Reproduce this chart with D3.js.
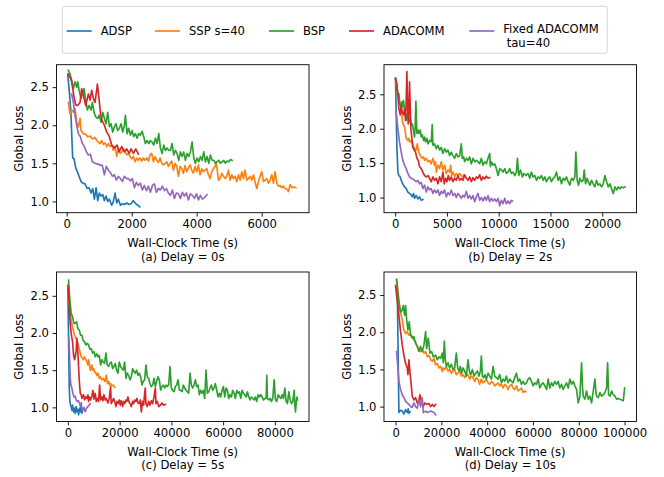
<!DOCTYPE html>
<html><head><meta charset="utf-8">
<script src="https://cdn.jsdelivr.net/npm/d3@7"></script>
<style>
body{margin:0;background:#fff}
text{font-family:"DejaVu Sans",sans-serif;fill:#000}
</style>
</head><body>
<svg id="chart" width="664" height="477"></svg>
<script>
// ---------- legend / series ----------
const seriesNames = ["ADSP", "SSP s=40", "BSP", "ADACOMM", "Fixed ADACOMM|tau=40"];
const seriesColors = ["#1f77b4", "#ff7f0e", "#2ca02c", "#d62728", "#9467bd"];

// ---------- tick labels ----------
const yTicks = [1.0, 1.5, 2.0, 2.5];
const xTicksA = [0, 2000, 4000, 6000];
const xTicksB = [0, 5000, 10000, 15000, 20000];
const xTicksC = [0, 20000, 40000, 60000, 80000];
const xTicksD = [0, 20000, 40000, 60000, 80000, 100000];
const captions = ["(a) Delay = 0s", "(b) Delay = 2s", "(c) Delay = 5s", "(d) Delay = 10s"];

// ---------- (a) delay 0s : [wall-clock s, loss] ----------
const adspA = [[31,2.67],[92,2.39],[133,2.13],[164,1.78],[185,1.57],[226,1.56],[277,1.44],[328,1.39],[380,1.33],[441,1.26],[492,1.24],[564,1.23],[626,1.17],[687,1.18],[749,1.11],[800,1.17],[852,1.03],[903,1.18],[954,1.01],[1005,1.11],[1057,1.07],[1108,1.09],[1159,1.01],[1211,1.07],[1262,1.00],[1313,1.03],[1385,0.95],[1436,1.00],[1488,1.11],[1539,0.98],[1590,1.03],[1652,0.95],[1713,0.97],[1775,0.96],[1847,0.98],[1919,0.96],[1980,0.97],[2052,1.01],[2124,0.97],[2247,0.93]];
const sspA = [[51,2.30],[103,2.15],[154,2.20],[205,2.17],[256,2.22],[308,2.04],[359,1.98],[410,2.09],[441,1.93],[513,1.89],[585,1.88],[646,1.85],[718,1.86],[770,1.83],[821,1.82],[872,1.84],[923,1.80],[975,1.78],[1026,1.76],[1077,1.80],[1129,1.75],[1180,1.77],[1231,1.72],[1283,1.76],[1334,1.72],[1385,1.74],[1436,1.67],[1488,1.72],[1539,1.59],[1590,1.70],[1642,1.63],[1693,1.65],[1744,1.69],[1796,1.65],[1847,1.61],[1898,1.63],[1949,1.59],[2001,1.56],[2052,1.59],[2103,1.52],[2155,1.57],[2206,1.54],[2257,1.57],[2309,1.53],[2360,1.57],[2411,1.54],[2462,1.57],[2514,1.53],[2565,1.61],[2616,1.63],[2668,1.52],[2719,1.59],[2770,1.54],[2822,1.51],[2873,1.57],[2924,1.50],[2975,1.48],[3027,1.50],[3078,1.52],[3129,1.46],[3181,1.50],[3232,1.53],[3283,1.41],[3335,1.50],[3386,1.46],[3437,1.33],[3488,1.46],[3540,1.43],[3591,1.37],[3642,1.47],[3694,1.39],[3745,1.44],[3796,1.48],[3848,1.41],[3899,1.37],[3950,1.46],[4001,1.39],[4053,1.48],[4104,1.35],[4155,1.43],[4207,1.39],[4258,1.41],[4309,1.43],[4361,1.35],[4412,1.30],[4463,1.39],[4514,1.43],[4566,1.46],[4596,1.52],[4627,1.43],[4668,1.28],[4720,1.30],[4771,1.37],[4822,1.33],[4874,1.30],[4925,1.33],[4976,1.41],[5027,1.28],[5079,1.35],[5130,1.30],[5181,1.33],[5233,1.26],[5284,1.35],[5335,1.28],[5387,1.39],[5438,1.30],[5489,1.41],[5540,1.28],[5592,1.30],[5643,1.33],[5694,1.28],[5746,1.35],[5797,1.25],[5848,1.17],[5899,1.26],[5951,1.33],[6002,1.39],[6053,1.26],[6105,1.28],[6156,1.30],[6207,1.24],[6259,1.28],[6310,1.35],[6361,1.24],[6412,1.39],[6464,1.24],[6515,1.20],[6566,1.21],[6618,1.18],[6669,1.20],[6720,1.17],[6772,1.16],[6823,1.13],[6874,1.22],[6926,1.18],[6977,1.19],[7049,1.18]];
const bspA = [[51,2.72],[103,2.67],[154,2.59],[205,2.48],[256,2.57],[308,2.50],[339,2.57],[380,2.46],[441,2.35],[482,2.41],[534,2.48],[585,2.33],[636,2.20],[687,2.26],[749,2.20],[790,2.30],[841,2.17],[893,2.11],[954,2.09],[995,2.13],[1057,2.04],[1108,2.17],[1159,2.09],[1211,2.02],[1262,2.17],[1313,1.98],[1365,2.02],[1416,1.91],[1467,1.98],[1518,2.02],[1570,1.93],[1621,1.96],[1672,2.02],[1724,1.91],[1775,2.00],[1806,2.13],[1857,1.89],[1908,1.96],[1960,1.87],[2011,1.93],[2062,1.85],[2114,1.89],[2165,1.83],[2216,1.89],[2267,1.87],[2319,1.92],[2370,1.85],[2421,1.76],[2473,1.80],[2524,1.76],[2575,1.80],[2627,1.78],[2678,1.74],[2729,1.83],[2780,1.76],[2832,1.89],[2883,1.70],[2934,1.63],[2986,1.74],[3037,1.67],[3088,1.70],[3140,1.67],[3191,1.67],[3242,1.76],[3293,1.61],[3345,1.67],[3396,1.63],[3447,1.54],[3499,1.65],[3550,1.59],[3601,1.65],[3653,1.54],[3704,1.63],[3755,1.59],[3806,1.65],[3858,1.78],[3909,1.57],[3960,1.50],[4012,1.57],[4063,1.52],[4114,1.59],[4166,1.54],[4217,1.65],[4268,1.52],[4319,1.59],[4371,1.50],[4422,1.61],[4473,1.54],[4525,1.54],[4576,1.50],[4627,1.52],[4679,1.54],[4730,1.50],[4781,1.52],[4832,1.54],[4884,1.50],[4935,1.53],[4986,1.52],[5038,1.55],[5089,1.54]];
const adacommA = [[51,2.67],[103,2.63],[154,2.57],[226,2.37],[277,2.27],[318,2.26],[359,2.27],[410,2.30],[462,2.48],[513,2.39],[585,2.26],[667,2.41],[718,2.33],[770,2.46],[821,2.35],[872,2.30],[944,2.54],[995,2.35],[1036,2.17],[1077,2.07],[1159,2.00],[1231,1.91],[1303,1.86],[1385,1.74],[1467,1.70],[1549,1.74],[1611,1.65],[1693,1.72],[1775,1.65],[1847,1.69],[1919,1.63],[1980,1.69],[2052,1.63],[2124,1.69],[2206,1.62]];
const fixedA = [[154,2.41],[205,2.30],[256,2.13],[308,2.00],[359,1.89],[421,1.85],[482,1.76],[544,1.72],[605,1.65],[667,1.61],[728,1.62],[790,1.52],[872,1.50],[954,1.49],[1026,1.48],[1098,1.47],[1159,1.35],[1221,1.46],[1283,1.41],[1344,1.38],[1406,1.33],[1467,1.35],[1529,1.28],[1590,1.33],[1652,1.30],[1713,1.26],[1775,1.33],[1837,1.30],[1898,1.30],[1960,1.27],[2021,1.30],[2083,1.18],[2144,1.25],[2206,1.21],[2267,1.24],[2329,1.15],[2390,1.21],[2452,1.14],[2514,1.20],[2575,1.12],[2637,1.21],[2698,1.23],[2760,1.12],[2822,1.17],[2883,1.15],[2945,1.20],[3006,1.14],[3068,1.17],[3129,1.11],[3191,1.08],[3252,1.15],[3314,1.04],[3375,1.11],[3437,1.10],[3499,1.04],[3560,1.12],[3622,1.07],[3683,1.11],[3745,1.02],[3806,1.10],[3868,1.08],[3930,1.04],[3991,1.10],[4053,1.02],[4114,1.08],[4176,1.03],[4237,1.05],[4319,1.09]];

// ---------- (b) delay 2s ----------
const adspB = [[32,2.73],[97,2.24],[161,1.76],[258,1.37],[355,1.32],[484,1.30],[581,1.25],[742,1.20],[903,1.155],[1065,1.13],[1226,1.08],[1387,1.06],[1548,1.04],[1645,1.01],[1774,1.06],[1871,0.99],[2032,1.03],[2194,0.98],[2355,1.01],[2516,0.96],[2678,0.97]];
const sspB = [[32,2.73],[97,2.63],[258,2.49],[419,2.39],[581,2.29],[742,2.07],[903,2.03],[1065,1.86],[1226,1.83],[1323,1.86],[1387,1.81],[1548,1.82],[1710,1.76],[1871,1.71],[2032,1.69],[2129,1.78],[2290,1.66],[2420,1.61],[2613,1.57],[2742,1.59],[2839,1.54],[3000,1.57],[3161,1.52],[3323,1.54],[3484,1.49],[3645,1.57],[3807,1.47],[3904,1.52],[3968,1.37],[4129,1.47],[4291,1.42],[4452,1.52],[4613,1.40],[4774,1.47],[4936,1.35],[5097,1.40],[5258,1.37],[5355,1.47],[5452,1.32],[5581,1.37],[5742,1.30],[5904,1.35],[6065,1.32],[6226,1.35],[6387,1.32],[6549,1.30],[6645,1.33]];
const bspB = [[32,2.73],[161,2.63],[258,2.49],[355,2.51],[419,2.41],[484,2.34],[581,2.29],[645,2.39],[710,2.32],[807,2.41],[903,2.27],[1000,2.19],[1065,2.12],[1161,2.22],[1258,2.15],[1323,2.17],[1387,2.10],[1484,2.12],[1581,2.05],[1645,2.07],[1710,2.03],[1807,1.93],[1871,1.88],[1936,2.05],[2000,2.40],[2097,1.93],[2194,1.98],[2290,1.93],[2420,1.98],[2516,1.88],[2613,1.91],[2742,1.83],[2839,1.88],[2936,1.81],[3065,1.86],[3161,1.78],[3323,1.83],[3484,1.81],[3581,2.06],[3645,1.76],[3807,1.78],[3968,1.71],[4129,1.76],[4291,1.69],[4452,1.73],[4613,1.64],[4774,1.71],[4936,1.66],[5097,1.69],[5258,1.61],[5420,1.66],[5581,1.61],[5742,1.57],[5904,1.64],[6065,1.59],[6226,1.61],[6387,1.78],[6484,1.57],[6613,1.59],[6710,1.52],[6871,1.57],[7033,1.54],[7194,1.59],[7355,1.49],[7517,1.57],[7678,1.52],[7839,1.54],[8000,1.52],[8162,1.49],[8323,1.57],[8484,1.47],[8646,1.52],[8807,1.49],[8968,1.57],[9130,1.64],[9194,1.45],[9291,1.52],[9452,1.47],[9613,1.49],[9775,1.42],[9936,1.32],[10097,1.42],[10259,1.40],[10420,1.37],[10581,1.42],[10743,1.35],[10904,1.37],[11065,1.42],[11226,1.35],[11388,1.37],[11549,1.32],[11710,1.37],[11807,1.57],[11936,1.32],[12098,1.40],[12291,1.30],[12420,1.35],[12614,1.32],[12839,1.35],[13001,1.28],[13162,1.37],[13323,1.30],[13485,1.32],[13646,1.25],[13807,1.30],[13969,1.28],[14130,1.32],[14291,1.25],[14453,1.30],[14614,1.23],[14775,1.28],[14936,1.30],[15098,1.23],[15259,1.28],[15420,1.30],[15582,1.37],[15743,1.25],[15904,1.30],[16065,1.20],[16227,1.28],[16388,1.25],[16549,1.30],[16711,1.23],[16872,1.18],[17033,1.28],[17195,1.25],[17356,1.30],[17453,1.66],[17582,1.25],[17711,1.18],[17840,1.28],[18001,1.23],[18162,1.25],[18259,1.40],[18388,1.20],[18550,1.28],[18646,1.23],[18808,1.18],[18969,1.25],[19130,1.20],[19291,1.155],[19453,1.25],[19614,1.18],[19775,1.20],[19937,1.155],[20098,1.20],[20259,1.32],[20421,1.23],[20582,1.155],[20743,1.20],[20904,1.13],[21066,1.06],[21227,1.155],[21388,1.11],[21550,1.155],[21711,1.13],[21872,1.155],[22034,1.14],[22195,1.155]];
const adacommB = [[32,2.73],[161,2.65],[258,2.49],[355,2.29],[484,2.20],[581,2.34],[677,2.24],[807,2.20],[903,2.29],[1000,2.12],[1065,2.39],[1129,2.83],[1194,2.39],[1258,2.07],[1323,2.24],[1387,2.68],[1452,2.34],[1516,2.00],[1613,1.86],[1710,1.73],[1839,1.69],[1968,1.66],[2097,1.57],[2226,1.54],[2355,1.45],[2516,1.42],[2678,1.37],[2839,1.32],[3000,1.30],[3161,1.32],[3323,1.28],[3484,1.23],[3645,1.30],[3807,1.25],[3968,1.28],[4129,1.20],[4291,1.30],[4452,1.23],[4613,1.37],[4742,1.20],[4871,1.28],[5000,1.23],[5129,1.32],[5258,1.25],[5420,1.30],[5581,1.23],[5742,1.28],[5904,1.25],[6065,1.32],[6226,1.25],[6387,1.28],[6549,1.25],[6710,1.33],[6871,1.28],[7033,1.25],[7194,1.30],[7355,1.23],[7517,1.29],[7678,1.25],[7839,1.30],[8000,1.28],[8162,1.33],[8323,1.25],[8484,1.30],[8646,1.27],[8807,1.31],[8968,1.28],[9130,1.29]];
const fixedB = [[97,2.24],[258,2.00],[419,1.81],[581,1.66],[742,1.54],[903,1.47],[1065,1.42],[1226,1.35],[1387,1.30],[1548,1.28],[1710,1.27],[1871,1.25],[2032,1.23],[2194,1.25],[2355,1.20],[2516,1.22],[2678,1.13],[2839,1.18],[3000,1.08],[3161,1.155],[3323,1.11],[3484,1.13],[3645,1.06],[3807,1.11],[3968,1.07],[4129,1.11],[4291,1.03],[4452,1.09],[4613,1.06],[4774,1.11],[4936,1.01],[5097,1.07],[5258,1.04],[5420,1.11],[5581,1.03],[5742,1.06],[5904,1.00],[6065,1.06],[6226,1.03],[6387,0.99],[6549,1.03],[6710,1.01],[6871,1.09],[7033,0.99],[7194,1.03],[7355,0.98],[7517,1.03],[7678,0.94],[7839,1.01],[8000,1.06],[8162,0.96],[8323,1.00],[8484,0.95],[8646,1.01],[8807,0.96],[8968,1.03],[9130,0.94],[9291,0.99],[9452,0.95],[9613,0.98],[9775,0.94],[9936,0.99],[10097,0.88],[10259,0.96],[10420,0.91],[10581,0.99],[10743,0.91],[10904,0.95],[11065,0.91],[11226,0.96],[11323,0.95]];

// ---------- (c) delay 5s ----------
const adspC = [[0,2.60],[258,1.95],[516,1.28],[774,1.08],[1032,1.03],[1290,1.01],[1548,0.96],[1806,1.03],[2193,0.94],[2580,0.99],[2838,0.92],[3225,1.01],[3612,0.94],[3870,0.97],[4128,0.90],[4515,0.99],[4902,0.94],[5160,1.06],[5418,0.92],[5676,0.96]];
const sspC = [[0,2.64],[258,2.58],[516,2.42],[903,2.26],[1290,2.17],[1806,2.08],[2193,2.02],[2580,1.97],[3096,1.93],[3483,1.90],[3870,1.86],[4386,1.79],[4773,1.73],[5160,1.68],[5676,1.66],[6063,1.64],[6450,1.68],[6966,1.64],[7353,1.61],[7740,1.57],[7998,1.64],[8256,1.59],[8643,1.50],[9030,1.55],[9288,1.57],[9546,1.50],[9933,1.52],[10320,1.48],[10836,1.46],[11223,1.43],[11610,1.46],[12126,1.39],[12513,1.41],[13158,1.37],[13803,1.39],[14190,1.35],[14448,1.35],[14835,1.43],[15351,1.32],[15738,1.35],[16125,1.30],[16512,1.32],[17028,1.29],[17673,1.30],[18060,1.27]];
const bspC = [[258,2.71],[774,2.44],[1290,2.26],[1806,2.22],[2322,2.13],[2838,2.13],[3354,2.15],[3870,2.06],[4386,2.04],[4902,1.97],[5418,1.97],[5934,1.90],[6450,1.88],[6966,1.84],[7482,1.86],[7998,1.84],[8514,1.78],[9030,1.79],[9546,1.73],[10062,1.75],[10578,1.68],[11094,1.72],[11610,1.68],[12126,1.70],[12642,1.57],[13158,1.64],[13674,1.61],[14190,1.59],[14706,1.73],[15222,1.57],[15738,1.55],[16254,1.59],[16770,1.61],[17286,1.52],[17802,1.55],[18318,1.59],[18834,1.50],[19350,1.46],[19866,1.61],[20382,1.55],[20898,1.52],[21414,1.50],[21930,1.61],[22446,1.39],[22962,1.46],[23478,1.43],[23994,1.37],[24510,1.41],[25026,1.52],[25542,1.48],[26058,1.46],[26574,1.50],[27090,1.43],[27606,1.46],[28122,1.41],[28638,1.30],[29154,1.35],[29670,1.37],[30186,1.57],[30702,1.41],[31218,1.39],[31734,1.32],[32250,1.28],[32766,1.30],[33282,1.39],[33798,1.28],[34314,1.35],[34830,1.41],[35346,1.37],[35862,1.23],[36378,1.28],[36894,1.30],[37410,1.26],[37926,1.30],[38442,1.28],[38958,1.30],[39474,1.55],[39990,1.26],[40506,1.23],[41022,1.21],[41538,1.28],[42054,1.30],[42570,1.37],[43086,1.23],[43602,1.23],[44118,1.21],[44634,1.30],[45150,1.26],[45666,1.23],[46182,1.21],[46698,1.19],[47214,1.46],[47730,1.30],[48246,1.26],[48762,1.30],[49278,1.37],[49794,1.28],[50310,1.30],[50826,1.17],[51342,1.23],[51858,1.19],[52374,1.23],[52890,1.12],[53406,1.50],[53922,1.19],[54438,1.21],[54954,1.26],[55470,1.30],[55986,1.23],[56502,1.26],[57018,1.32],[57534,1.23],[58050,1.14],[58566,1.19],[59082,1.14],[59598,1.23],[60114,1.28],[60630,1.14],[61146,1.26],[61662,1.23],[62178,1.12],[62694,1.17],[63210,1.14],[63726,1.23],[64242,1.19],[64758,1.12],[65274,1.23],[65790,1.19],[66306,1.21],[66822,1.12],[67338,1.23],[67854,1.19],[68370,1.17],[68886,1.14],[69402,1.21],[69918,1.14],[70434,1.10],[70950,1.14],[71466,1.12],[71982,1.10],[72498,1.14],[73014,1.08],[73530,1.17],[74046,1.14],[74562,1.17],[75078,1.14],[75594,1.10],[76110,1.12],[76626,1.12],[76884,1.43],[77142,1.12],[77658,1.10],[78174,1.12],[78690,1.08],[79206,1.12],[79722,1.37],[80238,1.10],[80754,1.08],[81270,1.17],[81786,1.14],[82302,1.12],[82818,1.17],[83334,1.12],[83850,1.26],[84366,1.08],[84882,1.05],[85398,1.21],[85914,1.10],[86430,1.05],[86946,1.08],[87462,1.23],[87720,1.03],[87978,0.94],[88236,1.05],[88494,1.14],[88752,1.10]];
const adacommC = [[0,2.64],[516,2.40],[903,2.13],[1290,1.99],[1806,1.88],[2193,1.70],[2580,1.64],[2838,1.68],[3225,1.77],[3483,1.93],[3741,1.82],[4128,1.55],[4386,1.37],[4773,1.19],[5160,1.17],[5418,1.12],[6063,1.17],[6450,1.10],[6966,1.14],[7353,1.12],[7740,1.17],[7998,1.08],[8385,1.14],[8772,1.10],[9288,1.15],[9675,1.23],[10062,1.11],[10578,1.19],[10965,1.08],[11352,1.12],[11868,1.08],[12255,1.30],[12642,1.10],[13158,1.14],[13545,1.09],[13932,1.17],[14448,1.10],[14835,1.12],[15480,1.06],[15996,1.12],[16512,1.28],[16770,1.05],[17286,1.09],[17673,1.12],[18060,1.08],[18576,1.01],[18963,1.08],[19350,1.05],[19866,1.10],[20253,1.03],[20640,1.09],[21156,1.01],[21543,1.08],[21930,1.05],[22446,1.10],[22833,1.08],[23220,1.14],[23736,1.06],[24123,1.05],[24510,1.01],[25026,1.08],[25413,1.05],[25800,1.10],[26316,1.08],[26703,1.12],[27090,1.06],[27606,1.05],[27993,1.10],[28380,0.94],[28896,1.08],[29283,1.03],[29670,1.19],[29928,1.26],[30186,1.05],[30702,1.01],[31218,1.08],[31734,1.03],[32250,1.09],[32766,1.05],[33282,1.14],[33798,1.26],[34056,1.05],[34572,1.08],[35088,1.01],[35733,1.03],[36378,1.06],[37023,1.03],[37668,1.04]];
const fixedC = [[387,1.93],[645,1.68],[903,1.41],[1161,1.30],[1548,1.26],[1935,1.19],[2322,1.14],[2838,1.15],[3225,1.10],[3612,1.08],[4128,1.09],[4644,1.03],[5160,1.01],[5676,0.96],[6192,1.00],[6708,0.94],[7224,0.99],[7740,1.01],[8256,1.03],[8643,1.05]];

// ---------- (d) delay 10s ----------
const adspD = [[729,2.63],[1458,0.92],[2187,0.95],[2916,0.94],[3645,0.90],[4374,0.96],[5103,0.92],[5540,0.97],[5832,0.91],[6415,0.93]];
const sspD = [[437,2.71],[1021,2.54],[1458,2.41],[2187,2.27],[2916,2.17],[3645,2.03],[4374,1.98],[5103,2.01],[5832,1.96],[6561,1.98],[7290,1.94],[8019,1.89],[8748,1.87],[9477,1.81],[10206,1.78],[10935,1.74],[11664,1.76],[12393,1.72],[13122,1.74],[13851,1.67],[14580,1.69],[15309,1.63],[16038,1.61],[16767,1.65],[17496,1.56],[18225,1.58],[18954,1.52],[19683,1.54],[20412,1.47],[20704,1.52],[21433,1.50],[22162,1.54],[22891,1.48],[23620,1.50],[24349,1.45],[25078,1.48],[25807,1.50],[26536,1.43],[27265,1.45],[27994,1.48],[28723,1.41],[29452,1.43],[30181,1.39],[30910,1.42],[31639,1.43],[32368,1.37],[33097,1.41],[33826,1.39],[34555,1.34],[35284,1.39],[36013,1.37],[36742,1.30],[37471,1.37],[38200,1.32],[38929,1.34],[39658,1.37],[40387,1.32],[41116,1.30],[41845,1.34],[42574,1.32],[43303,1.28],[44032,1.30],[44761,1.32],[45490,1.28],[46219,1.30],[46948,1.25],[47677,1.30],[48406,1.28],[49135,1.23],[49864,1.28],[50593,1.30],[51322,1.25],[52051,1.23],[52780,1.28],[53509,1.21],[54238,1.23],[54967,1.25],[55696,1.19],[56425,1.21],[56862,1.20]];
const bspD = [[437,2.71],[1021,2.54],[1458,2.41],[2187,2.27],[2916,2.30],[3353,2.36],[3937,2.23],[4374,2.36],[4811,2.18],[5395,2.03],[5978,2.14],[6561,1.96],[7290,1.92],[8019,1.94],[8748,1.85],[9477,1.81],[10206,1.74],[10935,1.81],[11664,1.74],[12393,1.83],[13122,2.01],[13559,1.78],[14288,1.92],[15017,1.72],[15746,1.74],[16475,1.67],[17496,1.69],[18225,1.63],[18954,1.67],[19683,1.65],[20412,1.72],[20849,1.59],[21287,1.88],[21724,1.63],[22162,1.54],[22891,1.59],[23620,1.52],[24349,1.57],[25078,1.50],[25807,1.52],[26536,1.72],[27119,1.52],[27702,1.48],[28285,1.54],[28868,1.45],[29452,1.52],[30181,1.48],[30910,1.41],[31639,1.63],[32222,1.48],[32805,1.43],[33534,1.50],[34263,1.41],[34992,1.45],[35721,1.48],[36450,1.41],[37033,1.48],[37471,1.68],[37908,1.41],[38491,1.39],[39074,1.43],[39658,1.37],[40387,1.45],[41116,1.41],[41845,1.37],[42574,1.54],[43303,1.41],[44032,1.39],[44761,1.37],[45490,1.43],[46219,1.32],[46948,1.37],[47677,1.34],[48406,1.41],[49135,1.32],[49864,1.37],[50593,1.34],[51322,1.32],[52051,1.39],[52780,1.45],[53509,1.34],[54238,1.37],[54967,1.30],[55696,1.34],[56425,1.30],[57154,1.32],[57883,1.37],[58612,1.39],[59341,1.34],[60070,1.28],[60799,1.32],[61528,1.30],[62257,1.37],[62986,1.25],[63715,1.30],[64444,1.32],[65173,1.28],[65902,1.23],[66631,1.37],[67360,1.25],[68089,1.32],[68818,1.28],[69547,1.34],[70276,1.30],[71005,1.34],[71734,1.25],[72463,1.30],[73192,1.23],[73921,1.28],[74650,1.32],[75379,1.25],[76108,1.37],[76837,1.30],[77566,1.34],[78295,1.28],[79024,1.23],[79753,1.05],[80482,1.14],[81211,1.59],[81648,1.25],[81940,1.14],[82669,1.10],[83398,1.21],[84127,1.10],[84856,1.14],[85585,1.05],[86314,1.21],[87043,1.37],[87481,1.19],[87772,1.14],[88501,1.12],[89230,1.19],[89959,1.14],[90688,1.16],[91417,1.19],[92146,1.25],[92583,1.59],[93020,1.16],[93604,1.14],[94333,1.21],[95062,1.16],[95791,1.14],[96520,1.10],[97249,1.11],[97978,1.10],[98707,1.09],[99436,1.08],[100019,1.25]];
const adacommD = [[0,2.63],[437,2.50],[1021,2.36],[1458,2.23],[2187,2.01],[2916,1.83],[3645,1.69],[4374,1.58],[5103,1.52],[5395,1.43],[5832,1.63],[6269,1.47],[6853,1.29],[7290,1.14],[8019,1.09],[8748,1.12],[9477,1.05],[10206,1.09],[10643,1.16],[11227,1.07],[12101,1.00],[12685,1.05],[13559,1.03],[14580,1.04],[15309,1.00],[16038,1.03],[16767,1.00],[17496,1.03]];
const fixedD = [[437,1.74],[1021,1.52],[1458,1.34],[2187,1.23],[2916,1.16],[3645,1.12],[4374,1.07],[5103,1.05],[5832,1.03],[6561,1.00],[7290,0.99],[8019,1.05],[8748,1.00],[9477,0.98],[10206,1.09],[10935,1.00],[11664,1.12],[12101,0.92],[13122,0.94],[13851,0.92],[15309,0.94],[16767,0.92],[17496,0.89]];

// ---------- layout ----------
const panels = [
  {series:[adspA,sspA,bspA,adacommA,fixedA], xTicks:xTicksA, xDom:[-314,7455],  yDom:[0.852,2.795], box:[56.5,64.7,309,212.7]},
  {series:[adspB,sspB,bspB,adacommB,fixedB], xTicks:xTicksB, xDom:[-1080,23310], yDom:[0.78,2.93],   box:[384,64.7,636.5,212.7]},
  {series:[adspC,sspC,bspC,adacommC,fixedC], xTicks:xTicksC, xDom:[-4400,93200], yDom:[0.81,2.82],   box:[56.5,272,309,421.5]},
  {series:[adspD,sspD,bspD,adacommD,fixedD], xTicks:xTicksD, xDom:[-5050,105200],yDom:[0.80,2.81],   box:[384,272,636.5,421.5]}
];
const FS = 11.6;
const svg = d3.select("#chart");

panels.forEach((p, i) => {
  const [l, t, r, b] = p.box;
  const x = d3.scaleLinear().domain(p.xDom).range([l, r]);
  const y = d3.scaleLinear().domain(p.yDom).range([b, t]);
  const g = svg.append("g");
  const line = d3.line().x(d => x(d[0])).y(d => y(d[1]));
  p.series.forEach((s, k) => {
    g.append("path").datum(s).attr("d", line)
      .attr("fill", "none").attr("stroke", seriesColors[k])
      .attr("stroke-width", 1.65).attr("stroke-linejoin", "round").attr("stroke-linecap", "square");
  });
  const xa = g.append("g").attr("transform", `translate(0,${b})`)
    .call(d3.axisBottom(x).tickValues(p.xTicks).tickFormat(d3.format("d")).tickSize(3.9).tickPadding(3.4));
  const ya = g.append("g").attr("transform", `translate(${l},0)`)
    .call(d3.axisLeft(y).tickValues(yTicks).tickFormat(d3.format(".1f")).tickSize(3.9).tickPadding(3.6));
  [xa, ya].forEach(a => {
    a.select(".domain").remove();
    a.selectAll("line").attr("stroke", "#000").attr("stroke-width", 0.9);
    a.selectAll("text").attr("font-size", FS).attr("font-family", "DejaVu Sans").attr("fill", "#000");
  });
  g.append("rect").attr("x", l).attr("y", t).attr("width", r - l).attr("height", b - t)
    .attr("fill", "none").attr("stroke", "#000").attr("stroke-width", 0.9);
  const cx = (l + r) / 2;
  g.append("text").attr("x", cx).attr("y", b + 30.6).attr("text-anchor", "middle")
    .attr("dominant-baseline", "central").attr("font-size", FS).text("Wall-Clock Time (s)");
  g.append("text").attr("x", cx).attr("y", b + 43.8).attr("text-anchor", "middle")
    .attr("dominant-baseline", "central").attr("font-size", FS).text(captions[i]);
  const ylx = l - 37.2, yly = (t + b) / 2;
  g.append("text").attr("transform", `translate(${ylx},${yly}) rotate(-90)`)
    .attr("text-anchor", "middle").attr("dominant-baseline", "central").attr("font-size", FS).text("Global Loss");
});

// ---------- legend ----------
const lg = svg.append("g");
lg.append("rect").attr("x", 62.3).attr("y", 6.3).attr("width", 545).attr("height", 47)
  .attr("rx", 2.5).attr("fill", "#fff").attr("stroke", "#d0d0d0").attr("stroke-width", 0.9);
const legendX = [66.7, 155, 269, 349, 469.3];
seriesNames.forEach((name, k) => {
  const x0 = legendX[k];
  lg.append("line").attr("x1", x0).attr("x2", x0 + 25).attr("y1", 31).attr("y2", 31)
    .attr("stroke", seriesColors[k]).attr("stroke-width", 1.65);
  const parts = name.split("|");
  if (parts.length === 1) {
    lg.append("text").attr("x", x0 + 34).attr("y", 31).attr("dominant-baseline", "central")
      .attr("font-size", FS).text(parts[0]);
  } else {
    lg.append("text").attr("x", x0 + 34).attr("y", 29.3).attr("dominant-baseline", "central")
      .attr("font-size", FS).text(parts[0]);
    lg.append("text").attr("x", x0 + 37.4).attr("y", 42.7).attr("dominant-baseline", "central")
      .attr("font-size", FS).text(parts[1]);
  }
});
</script>
</body></html>
